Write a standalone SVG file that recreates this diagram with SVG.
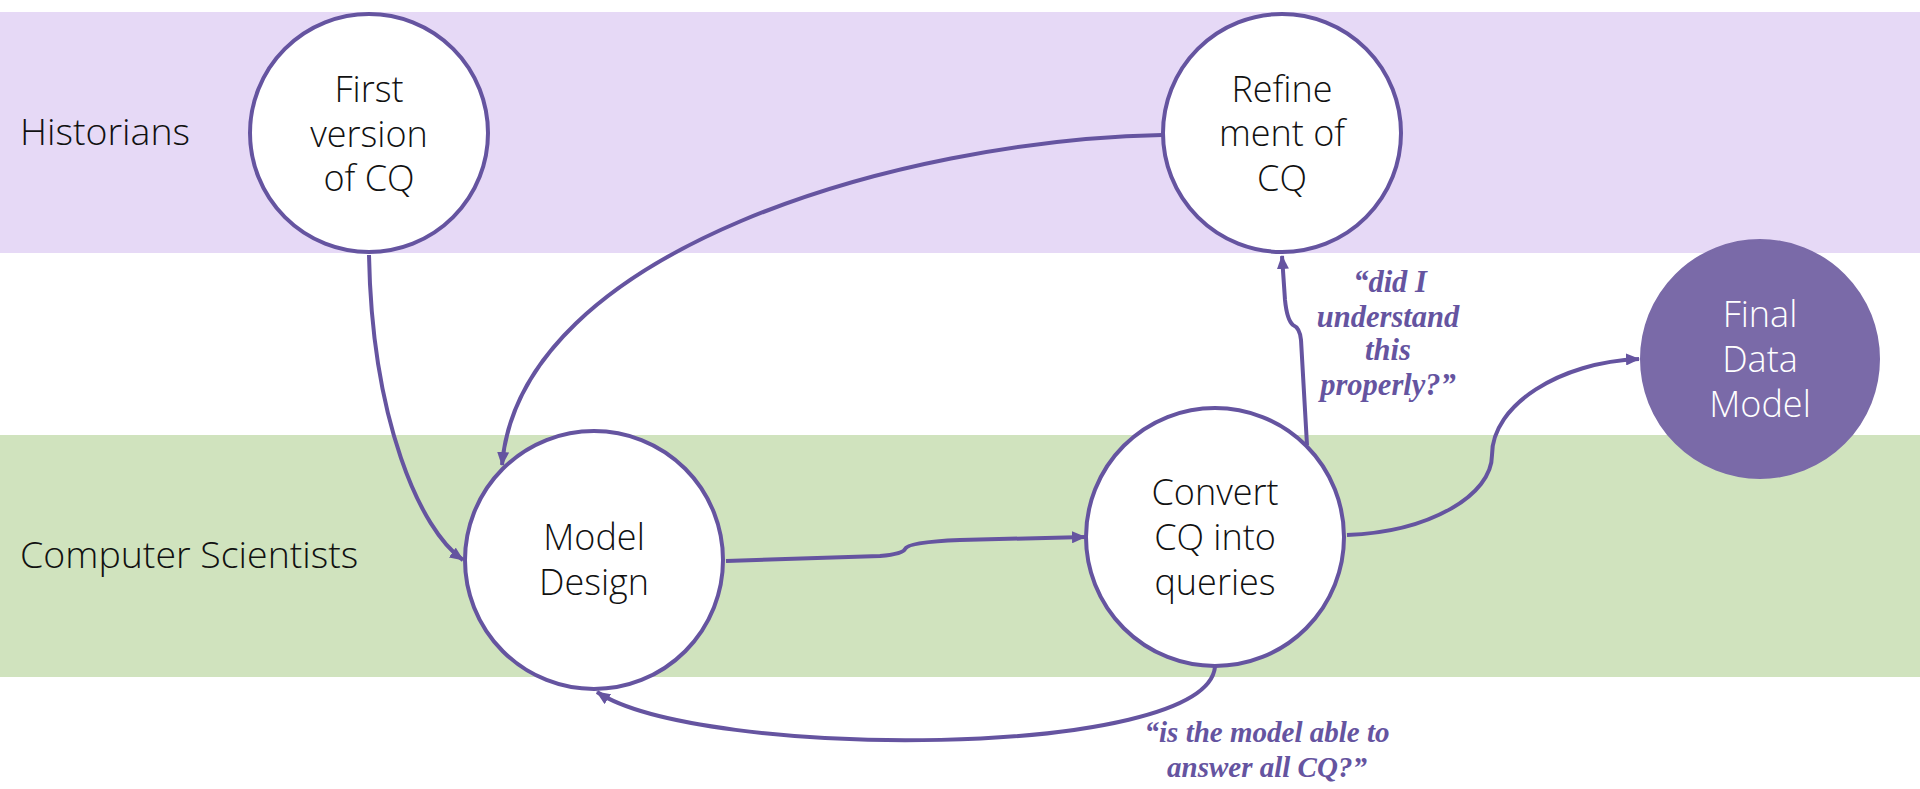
<svg xmlns="http://www.w3.org/2000/svg" width="1920" height="789" viewBox="0 0 1920 789">
<style>
.node{fill:#ffffff;stroke:#6554a0;stroke-width:4}
.final{fill:#7a6aa8;stroke:#7a6aa8;stroke-width:2}
.t{font-family:"Open Sans","Liberation Sans",sans-serif;font-weight:300;font-size:36px;fill:#111111;text-anchor:middle}
.tw{fill:#ffffff}
.lane{font-family:"Open Sans","Liberation Sans",sans-serif;font-weight:300;font-size:37.5px;fill:#111111}
.lbl{font-family:"Liberation Serif","DejaVu Serif",serif;font-weight:bold;font-style:italic;font-size:29px;fill:#6554a0;text-anchor:middle}
.lbl2{font-size:30.5px}
.edge{fill:none;stroke:#6554a0;stroke-width:4;marker-end:url(#ah)}
</style>
<defs>
<marker id="ah" viewBox="0 0 14 12" refX="13" refY="6" markerWidth="14" markerHeight="12" orient="auto" markerUnits="userSpaceOnUse">
<path d="M0,0 L14,6 L0,12 Z" fill="#6554a0"/>
</marker>
</defs>
<rect x="0" y="0" width="1920" height="789" fill="#ffffff"/>
<g id="lanes">
<rect x="0" y="12" width="1920" height="241" fill="#e6d9f6"/>
<rect x="0" y="435" width="1920" height="242" fill="#d0e3be"/>
<text class="lane" x="20" y="145">Historians</text>
<text class="lane" x="20" y="568">Computer Scientists</text>
</g>
<g id="connectors">
<path class="edge" d="M369,255 C372,420 420,530 463,560"/>
<path class="edge" d="M1162,135 C900,140 520,250 502,465"/>
<path class="edge" d="M726,561 L880,556 Q903,554 905,549 Q908,542 960,540 L1085,537"/>
<path class="edge" d="M1307,445 L1301,340 Q1300,328 1293,325 Q1287,320 1285,300 L1282,256"/>
<path class="edge" d="M1347,535 C1430,532 1492,495 1492,455 C1492,405 1560,362 1639,359"/>
<path class="edge" d="M1215,667 C1205,760 700,760 597,692"/>
</g>
<g id="label-understand">
<text class="lbl lbl2" x="1390" y="292">“did I</text>
<text class="lbl lbl2" x="1388" y="327">understand</text>
<text class="lbl lbl2" x="1388" y="360">this</text>
<text class="lbl lbl2" x="1388" y="395">properly?”</text>
</g>
<g id="label-answer">
<text class="lbl" x="1267" y="742">“is the model able to</text>
<text class="lbl" x="1267" y="777">answer all CQ?”</text>
</g>
<g id="node-first">
<circle class="node" cx="369" cy="133" r="119"/>
<text class="t" x="369" y="102">First</text>
<text class="t" x="369" y="147">version</text>
<text class="t" x="369" y="191">of CQ</text>
</g>
<g id="node-refine">
<circle class="node" cx="1282" cy="133" r="119"/>
<text class="t" x="1282" y="102">Refine</text>
<text class="t" x="1282" y="146">ment of</text>
<text class="t" x="1282" y="191">CQ</text>
</g>
<g id="node-model">
<circle class="node" cx="594" cy="560" r="129"/>
<text class="t" x="594" y="550">Model</text>
<text class="t" x="594" y="595">Design</text>
</g>
<g id="node-convert">
<circle class="node" cx="1215" cy="537" r="129"/>
<text class="t" x="1215" y="505">Convert</text>
<text class="t" x="1215" y="550">CQ into</text>
<text class="t" x="1215" y="595">queries</text>
</g>
<g id="node-final">
<circle class="final" cx="1760" cy="359" r="119"/>
<text class="t tw" x="1760" y="327">Final</text>
<text class="t tw" x="1760" y="372">Data</text>
<text class="t tw" x="1760" y="417">Model</text>
</g>
</svg>
